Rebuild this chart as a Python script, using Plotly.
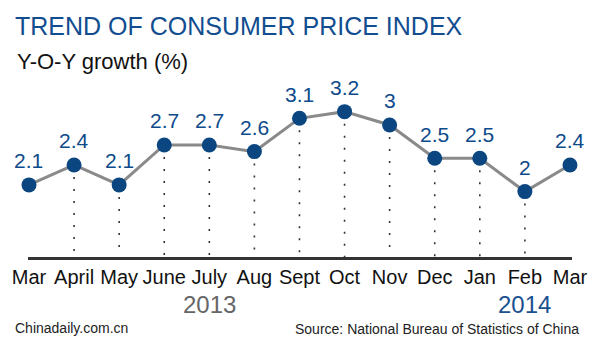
import plotly.graph_objects as go

months = ["Mar", "April", "May", "June", "July", "Aug", "Sept", "Oct", "Nov", "Dec", "Jan", "Feb", "Mar"]
values = [2.1, 2.4, 2.1, 2.7, 2.7, 2.6, 3.1, 3.2, 3.0, 2.5, 2.5, 2.0, 2.4]
value_labels = ["2.1", "2.4", "2.1", "2.7", "2.7", "2.6", "3.1", "3.2", "3", "2.5", "2.5", "2", "2.4"]
years = ["2013", "2014"]
year_pos = [4, 11]
dropline_idx = list(range(1, 12))

FONT = "Liberation Sans, Arial, sans-serif"
BLUE = "#0d4a8a"
Y0 = 1.018
xs = list(range(len(months)))

fig = go.Figure()

# dotted drop lines
for i in dropline_idx:
    fig.add_trace(go.Scatter(
        x=[xs[i], xs[i]], y=[values[i], Y0], mode="lines",
        line=dict(color="#333333", width=1.6, dash="2px,10px"),
        hoverinfo="skip", showlegend=False))

fig.add_trace(go.Scatter(
    x=xs, y=values, mode="lines+markers",
    line=dict(color="#8a8a8a", width=3),
    marker=dict(color="#0b4680", size=15),
    cliponaxis=False, showlegend=False))

annotations = []
for x, v, t in zip(xs, values, value_labels):
    annotations.append(dict(x=x, y=v, text=t, showarrow=False, yshift=24,
                            yanchor="middle", xanchor="center",
                            font=dict(family=FONT, size=21, color=BLUE)))

year_colors = ["#666666", "#1a5090"]
for yr, p, c in zip(years, year_pos, year_colors):
    annotations.append(dict(x=p, xref="x", y=0, yref="paper", text=yr, showarrow=False,
                            yanchor="middle", xanchor="center", yshift=-47.5,
                            font=dict(family=FONT, size=24, color=c)))

annotations += [
    dict(x=-0.0274, xref="paper", y=1, yref="paper", text="TREND OF CONSUMER PRICE INDEX",
         showarrow=False, xanchor="left", yanchor="middle", yshift=59,
         font=dict(family=FONT, size=25, color="#114d8f")),
    dict(x=-0.0238, xref="paper", y=1, yref="paper", text="Y-O-Y growth (%)",
         showarrow=False, xanchor="left", yanchor="middle", yshift=24,
         font=dict(family=FONT, size=22, color="#111111")),
    dict(x=-0.028, xref="paper", y=0, yref="paper", text="Chinadaily.com.cn",
         showarrow=False, xanchor="left", yanchor="middle", yshift=-71,
         font=dict(family=FONT, size=14, color="#222222")),
    dict(x=1.0165, xref="paper", y=0, yref="paper", text="Source: National Bureau of Statistics of China",
         showarrow=False, xanchor="right", yanchor="middle", yshift=-72,
         font=dict(family=FONT, size=14, color="#222222")),
]

fig.update_layout(
    width=600, height=348,
    margin=dict(l=28, r=25, t=85, b=90.5, pad=0),
    paper_bgcolor="white", plot_bgcolor="white",
    annotations=annotations,
    xaxis=dict(range=[-0.022, 12.045], tickvals=xs, ticktext=months,
               showgrid=False, zeroline=False, showline=True,
               linecolor="#333333", linewidth=2.5, ticks="",
               tickfont=dict(family=FONT, size=20, color="#111111"),
               fixedrange=True),
    yaxis=dict(range=[Y0, 3.6], visible=False, showgrid=False, zeroline=False,
               fixedrange=True),
)

fig.write_html("out.html")
